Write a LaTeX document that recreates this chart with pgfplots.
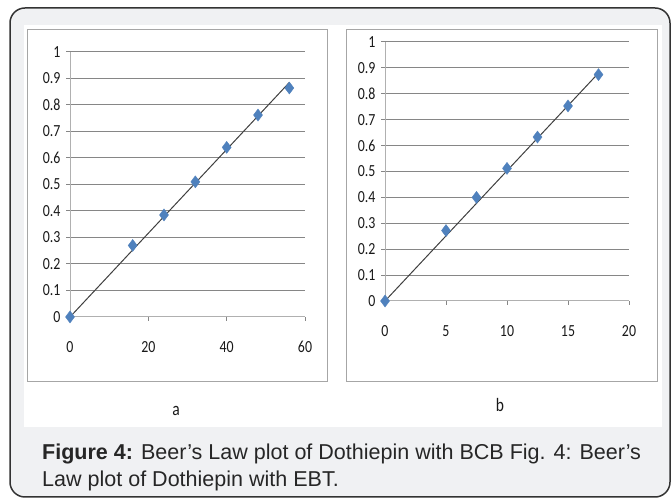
\documentclass[border=0pt]{standalone}
\usepackage{pgfplots}
\pgfplotsset{compat=1.18}
\usepackage{fontspec}
\setmainfont{Liberation Sans}
\newfontfamily\tickfont[FakeStretch=0.82]{Carlito}
\definecolor{bgc}{HTML}{F0F1F3}
\definecolor{mblue}{HTML}{4F81BD}
\definecolor{gridc}{HTML}{868686}
\definecolor{axc}{HTML}{B0B0B0}
\definecolor{panelc}{HTML}{A6A6A6}
\definecolor{linec}{HTML}{404040}
\pgfplotsset{
  panel/.style={
    scale only axis,
    axis x line=bottom, axis y line=left,
    axis line style={axc, -, line width=1bp},
    ymin=0, ymax=1,
    ytick={0,0.1,0.2,0.3,0.4,0.5,0.6,0.7,0.8,0.9,1},
    ymajorgrids,
    grid style={gridc, line width=1bp},
    tick style={gridc, line width=1bp},
    major tick length=4bp,
    tick align=outside,
    /pgf/number format/assume math mode=true,
    ticklabel style={font=\tickfont\fontsize{17}{17}\selectfont, text=black!90},
    yticklabel style={xshift=-2bp},
    xticklabel style={yshift=-17bp},
    clip=false,
  },
  pts/.style={only marks, mark=diamond*, mark size=6bp, mark options={fill=mblue, draw=mblue}},
  fit/.style={no marks, linec, line width=1bp},
}
\begin{document}
\begin{tikzpicture}
\begin{scope}[x=1bp,y=1bp]
\useasboundingbox (0,0) rectangle (672,499);
\fill[white] (0,0) rectangle (672,499);
\draw[line width=1.5bp, draw=black!80, fill=bgc, rounded corners=15bp] (10,2) rectangle (670,491);
\fill[white] (24,72) rectangle (662,474);
\draw[panelc, line width=1bp] (27,117) rectangle (327,469);
\draw[panelc, line width=1bp] (346,117) rectangle (657,469);
\node[font=\tickfont\fontsize{19}{19}\selectfont, text=black!90] at (176,88) {a};
\node[font=\tickfont\fontsize{19}{19}\selectfont, text=black!90] at (500,94) {b};
\node[anchor=base west, font=\fontsize{21.6}{21.6}\selectfont, text=black!85, inner sep=0pt] at (42,39)
  {\textbf{Figure 4:} Beer’s Law plot of Dothiepin with BCB Fig. 4: Beer’s};
\node[anchor=base west, font=\fontsize{21.6}{21.6}\selectfont, text=black!85, inner sep=0pt] at (42,12)
  {Law plot of Dothiepin with EBT.};
\end{scope}

\begin{axis}[panel, at={(70bp,182bp)}, anchor=south west, width=235bp, height=265bp,
  xmin=0, xmax=60, xtick={0,20,40,60}]
\addplot[pts] coordinates {(0,0) (16,0.27) (24,0.385) (32,0.51) (40,0.64) (48,0.762) (56,0.864)};
\addplot[fit] coordinates {(0,0) (56,0.885)};
\end{axis}

\begin{axis}[panel, at={(385bp,198bp)}, anchor=south west, width=244bp, height=259bp,
  xmin=0, xmax=20, xtick={0,5,10,15,20}]
\addplot[pts] coordinates {(0,0) (5,0.272) (7.5,0.40) (10,0.512) (12.5,0.633) (15,0.753) (17.5,0.874)};
\addplot[fit] coordinates {(0,0) (17.5,0.88)};
\end{axis}
\end{tikzpicture}
\end{document}
